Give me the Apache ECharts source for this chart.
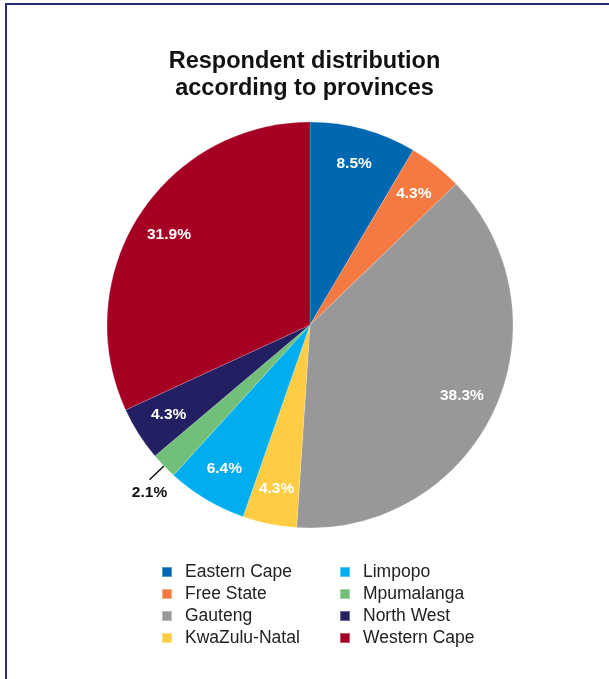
<!DOCTYPE html>
<html>
<head>
<meta charset="utf-8">
<script src="https://cdn.jsdelivr.net/npm/echarts@6/dist/echarts.min.js"></script>
<style>
html,body{margin:0;padding:0;background:#fff;}
#frame{position:absolute;left:5px;top:3px;width:700px;height:800px;border-left:2px solid #2b2a7c;border-top:2px solid #2b2a7c;}
#chart{position:absolute;left:0;top:0;width:609px;height:679px;}
</style>
</head>
<body>
<div id="frame"></div>
<div id="chart"></div>
<script>
const titleText = 'Respondent distribution\naccording to provinces';
const provinces = ['Eastern Cape','Free State','Gauteng','KwaZulu-Natal','Limpopo','Mpumalanga','North West','Western Cape'];
const shares = [8.5, 4.3, 38.3, 4.3, 6.4, 2.1, 4.3, 31.9];
const colors = ['#0067b1','#f47a42','#98989a','#ffcd44','#00aeef','#72bf79','#231f63','#a50024'];
const outsideLabels = ['Mpumalanga'];

const font = 'Liberation Sans, Arial, Helvetica, sans-serif';
const chart = echarts.init(document.getElementById('chart'), null, {renderer:'canvas'});

const pieData = provinces.map((n,i)=>({name:n, value:shares[i], itemStyle:{color:colors[i]}}));
const labelData = provinces.map((n,i)=>{
  const outside = outsideLabels.includes(n);
  return {
    name:n, value:shares[i],
    itemStyle:{color:'rgba(0,0,0,0)'},
    label: outside ? {position:'outside', color:'#111', distanceToLabelLine:0} : {position:'inside'},
    labelLine: outside ? {show:true, length:20, length2:0, lineStyle:{color:'#111', width:1.5}} : {show:false}
  };
});

chart.setOption({
  animation:false,
  title:{text:titleText, left:'center', top:43, textStyle:{fontFamily:font, fontSize:23.5, fontWeight:'bold', color:'#111', lineHeight:27}},
  legend:[
    {data:provinces.slice(0,4), orient:'vertical', left:156, top:556, icon:'rect', itemWidth:10, itemHeight:10, itemGap:0,
     textStyle:{fontFamily:font, fontSize:17.5, color:'#222', lineHeight:22, padding:[0,0,0,8]}},
    {data:provinces.slice(4), orient:'vertical', left:334, top:556, icon:'rect', itemWidth:10, itemHeight:10, itemGap:0,
     textStyle:{fontFamily:font, fontSize:17.5, color:'#222', lineHeight:22, padding:[0,0,0,8]}}
  ],
  series:[
    {type:'pie', center:[310,325], radius:[0,203], startAngle:90, clockwise:true, silent:true,
     label:{show:false}, labelLine:{show:false},
     itemStyle:{borderColor:'rgba(255,255,255,0.35)', borderWidth:0.5},
     data:pieData},
    {type:'pie', center:[310,325], radius:[126,203], startAngle:90, clockwise:true, silent:true,
     label:{show:true, formatter:p=>p.value.toFixed(1)+'%', color:'#fff', fontFamily:font, fontSize:15.5, fontWeight:'bold'},
     labelLayout: p => outsideLabels.includes(provinces[p.dataIndex]) ? {align:'center', verticalAlign:'top', dy:5} : {},
     data:labelData}
  ]
});
</script>
</body>
</html>
